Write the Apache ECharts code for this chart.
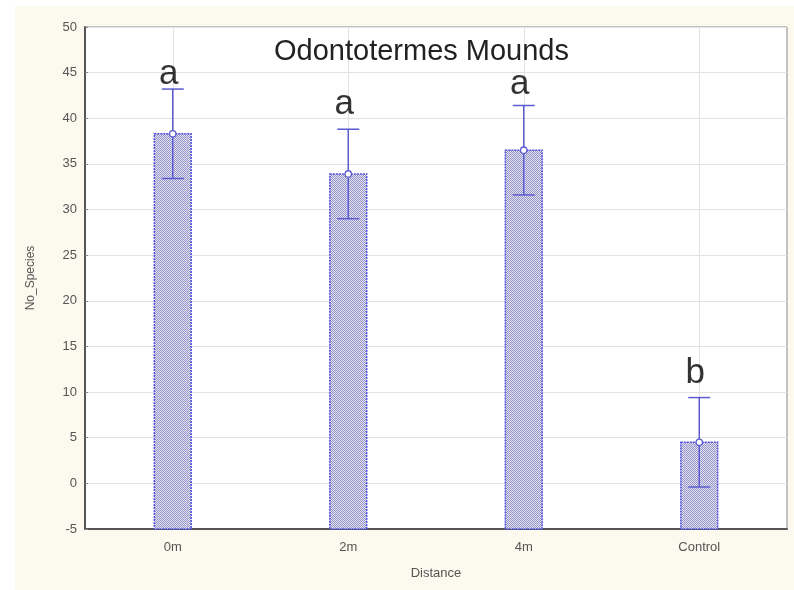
<!DOCTYPE html>
<html><head><meta charset="utf-8">
<script src="https://cdn.jsdelivr.net/npm/echarts@6/dist/echarts.min.js"></script>
<style>html,body{margin:0;padding:0;background:#fff}#c{width:794px;height:590px}</style>
</head><body><div id="c"></div>
<script>
var categories = ['0m', '2m', '4m', 'Control'];
var means = [38.3, 33.9, 36.5, 4.5];
var errors = [4.9, 4.9, 4.9, 4.9];
var letters = ['a', 'a', 'a', 'b'];
var letterY = [43.9, 40.6, 42.8, 11.1];
var yTicks = [-5, 0, 5, 10, 15, 20, 25, 30, 35, 40, 45, 50];

var pc = document.createElement('canvas');
pc.width = 2; pc.height = 2;
var ctx = pc.getContext('2d');
ctx.fillStyle = '#e4e4f0'; ctx.fillRect(0, 0, 2, 2);
ctx.fillStyle = '#9494c8'; ctx.fillRect(0, 0, 1, 1); ctx.fillRect(1, 1, 1, 1);

var chart = echarts.init(document.getElementById('c'), null, {renderer: 'canvas'});
var ffam = 'Liberation Sans, Arial, sans-serif';
chart.setOption({
  animation: false,
  backgroundColor: '#ffffff',
  graphic: [{type: 'rect', z: -10, shape: {x: 15, y: 6, width: 779, height: 584}, style: {fill: '#fcf9ee'}}],
  title: {text: 'Odontotermes Mounds', left: 274, top: 37, textStyle: {fontFamily: ffam, fontSize: 29, fontWeight: 'normal', color: '#222'}, padding: 0},
  grid: {left: 85, right: 7, top: 27, bottom: 61, show: true, backgroundColor: '#ffffff', borderColor: '#888', borderWidth: 1},
  xAxis: {
    type: 'category', data: categories, name: 'Distance', nameLocation: 'middle', nameGap: 38,
    nameTextStyle: {fontFamily: ffam, fontSize: 13, color: '#555'},
    axisLine: {onZero: false, lineStyle: {color: '#555', width: 2}},
    axisTick: {show: false},
    axisLabel: {fontFamily: ffam, fontSize: 13, color: '#555', margin: 12},
    splitLine: {show: false}
  },
  yAxis: {
    type: 'value', min: -5, max: 50, interval: 5,
    name: 'No_Species', nameLocation: 'middle', nameGap: 48,
    nameTextStyle: {fontFamily: ffam, fontSize: 12, color: '#555'},
    axisLine: {show: true, onZero: false, lineStyle: {color: '#555', width: 2}},
    axisTick: {show: true, inside: true, length: 3, lineStyle: {color: '#888'}},
    axisLabel: {fontFamily: ffam, fontSize: 13, color: '#555', margin: 8,
      formatter: function (v) { return yTicks.indexOf(v) >= 0 ? String(v) : ''; }},
    splitLine: {lineStyle: {color: '#e2e2e2'}}
  },
  series: [
    {
      type: 'line', z: 0, silent: true, data: [], symbol: 'none',
      markLine: {silent: true, z: 0, symbol: 'none', label: {show: false}, lineStyle: {color: '#e2e2e2', type: 'solid', width: 1},
        data: categories.map(function (c) { return {xAxis: c}; })}
    },
    {
      type: 'custom', z: 2, silent: true,
      data: means.map(function (m, i) { return [i, m]; }),
      renderItem: function (params, api) {
        var i = api.value(0), v = api.value(1);
        var top = api.coord([i, v]);
        var bot = api.coord([i, -5]);
        var w = api.size([1, 0])[0] * 0.21;
        return {type: 'rect', shape: {x: top[0] - w / 2, y: top[1], width: w, height: bot[1] - top[1]},
          style: {fill: {image: pc, repeat: 'repeat'}, stroke: '#5050e0', lineWidth: 1.5, lineDash: [2, 1]}};
      }
    },
    {
      type: 'custom', z: 3, silent: true,
      data: means.map(function (m, i) { return [i, m, errors[i]]; }),
      renderItem: function (params, api) {
        var i = api.value(0), v = api.value(1), e = api.value(2);
        var c = api.coord([i, v]);
        var hi = api.coord([i, v + e]);
        var lo = api.coord([i, v - e]);
        var cap = 11;
        var st = {stroke: '#5c5cd0', lineWidth: 1.5};
        return {type: 'group', children: [
          {type: 'line', shape: {x1: c[0], y1: hi[1], x2: c[0], y2: lo[1]}, style: st},
          {type: 'line', shape: {x1: c[0] - cap, y1: hi[1], x2: c[0] + cap, y2: hi[1]}, style: st},
          {type: 'line', shape: {x1: c[0] - cap, y1: lo[1], x2: c[0] + cap, y2: lo[1]}, style: st},
          {type: 'circle', shape: {cx: c[0], cy: c[1], r: 3.2}, style: {fill: '#fff', stroke: '#5c5cd0', lineWidth: 1.3}}
        ]};
      }
    },
    {
      type: 'scatter', z: 4, silent: true, symbolSize: 0,
      data: letterY.map(function (y, i) { return {value: [i, y], label: {formatter: letters[i]}}; }),
      label: {show: true, position: 'top', distance: 0, fontFamily: ffam, fontSize: 35, color: '#000', verticalAlign: 'bottom', offset: [-4, 9]}
    }
  ]
});
</script></body></html>
